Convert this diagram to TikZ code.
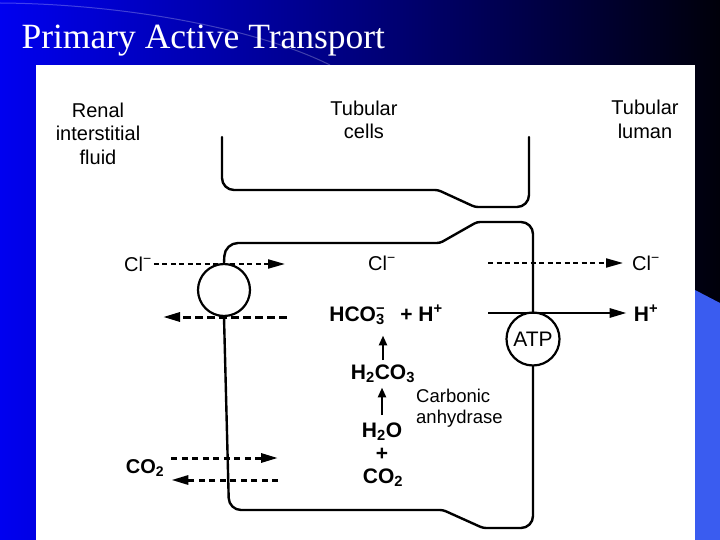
\documentclass[tikz,border=0pt]{standalone}
\usepackage{fontspec}
\setmainfont{Liberation Serif}
\setsansfont{Liberation Sans}
\usetikzlibrary{arrows.meta}
\definecolor{slideblue}{RGB}{0,0,240}
\definecolor{slidemid}{RGB}{0,0,155}
\definecolor{slidenavy}{RGB}{0,0,10}
\definecolor{stripblue}{RGB}{58,92,240}

\begin{document}
\begin{tikzpicture}[x=1pt,y=-1pt]
\tikzset{txt/.style = {font=\sffamily\fontsize{20}{23.5}\selectfont,inner sep=0pt,align=center}}
\tikzset{chem/.style = {font=\sffamily\bfseries\fontsize{21}{24}\selectfont,inner sep=0pt}}
\tikzset{pump/.style = {shape=circle,draw,line width=2.2pt,minimum size=52pt,inner sep=0pt}}
\tikzset{wall/.style = {line width=2.4pt,line cap=round}}
\tikzset{flow/.style = {-{Triangle[length=17pt,width=9pt]},line width=2pt,dash pattern=on 5pt off 3.5pt}}
\tikzset{bigflow/.style = {flow,line width=3pt,dash pattern=on 8pt off 4pt}}
\tikzset{gasflow/.style = {flow,line width=3pt,dash pattern=on 6pt off 4.5pt}}
\tikzset{pumped/.style = {-{Triangle[length=17pt,width=9pt]},line width=2.8pt}}
\tikzset{react/.style = {-{Triangle[length=10pt,width=8pt]},line width=2.5pt}}
\useasboundingbox (0,0) rectangle (720,540);
% slide
\shade[left color=slideblue,middle color=slidemid,right color=slidenavy] (0,0) rectangle (720,540);
\fill[stripblue] (695,290) -- (720,303) -- (720,540) -- (695,540) -- cycle;
\draw[white,opacity=0.25,line width=1pt] (0,3) .. controls (130,4) and (260,30) .. (330,65);
\fill[white] (36,65) rectangle (695,540);
\node[anchor=base west,text=white,font=\fontsize{35.5}{40}\selectfont] (title) at (18,49) {Primary Active Transport};
% regions
\node[txt,anchor=north] (renal) at (98,102.5) {Renal\\interstitial\\fluid};
\node[txt,anchor=north] (cells) at (364,100.5) {Tubular\\cells};
\node[txt,anchor=north] (lumen) at (645,100) {Tubular\\luman};
% carriers
\node[pump] (carrier) at (224,290) {};
\node[pump,minimum size=53pt,font=\sffamily\fontsize{21}{24}\selectfont] (atp) at (533,339) {ATP};
% ions
\node[txt] (clL) at (138,264) {Cl\textsuperscript{−}};
\node[txt] (clC) at (382,263) {Cl\textsuperscript{−}};
\node[txt] (clR) at (646,263) {Cl\textsuperscript{−}};
\node[chem] (hR) at (646,313) {H\textsuperscript{+}};
\node[chem,font=\sffamily\bfseries\fontsize{20}{24}\selectfont] (coL) at (145,468) {CO\textsubscript{2}};
\node[chem,anchor=base] (hco) at (386,321) {HCO\rlap{\textsubscript{3}}\textsuperscript{−}\ \ \,+ H\textsuperscript{+}};
\node[chem,anchor=base] (h2co3) at (383,379) {H\textsubscript{2}CO\textsubscript{3}};
\node[chem,anchor=base] (h2o) at (382,437) {H\textsubscript{2}O};
\node[chem,anchor=base] (plus) at (382,460) {+};
\node[chem,anchor=base] (co2) at (383,483) {CO\textsubscript{2}};
\node[txt,align=left,anchor=north west,font=\sffamily\fontsize{18.5}{21}\selectfont] (enzyme) at (416,389) {Carbonic\\anhydrase};
% free ends
\coordinate (clIn) at (285,264);
\coordinate (hcoIn) at (287,317);
\coordinate (hcoOut) at (163,317);
\coordinate (clOut) at (488,263);
\coordinate (hOut) at (488,313);
\coordinate (coIn) at (278,458);
\coordinate (coOut) at (278,480);
% cell walls
\draw[wall] (222,137) [rounded corners=12pt] -- (222,190) [rounded corners=3pt] -- (438,190) -- (475,207) [rounded corners=12pt] -- (529,207) -- (529,137);
\draw[wall] (carrier.north) [rounded corners=13pt] -- (225,243) [rounded corners=3pt] -- (440,243) -- (477,222) [rounded corners=12pt] -- (533,222) -- (atp.north);
\draw[wall] (atp.south) [rounded corners=12pt] -- (533,528) [rounded corners=3pt] -- (483,528) -- (443,510) [rounded corners=12pt] -- (229,510) -- (carrier.south);
% transport
\draw[flow,shorten <=2pt] (clL) -- (clIn);
\draw[bigflow] (hcoIn) -- (hcoOut);
\draw[flow,shorten >=9pt] (clOut) -- (clR);
\draw[pumped,shorten >=7pt] (hOut) -- (hR);
\draw[gasflow,shorten <=7pt] (coL.east |- coIn) -- (coIn);
\draw[gasflow,shorten >=7pt] (coOut) -- (coL.east |- coOut);
\draw[react,shorten <=4pt,shorten >=11pt] (h2co3.north) -- (h2co3.north |- hco.south);
\draw[react,shorten <=7pt,shorten >=5pt] (h2o.north) -- (h2o.north |- h2co3.south);
\end{tikzpicture}
\end{document}
